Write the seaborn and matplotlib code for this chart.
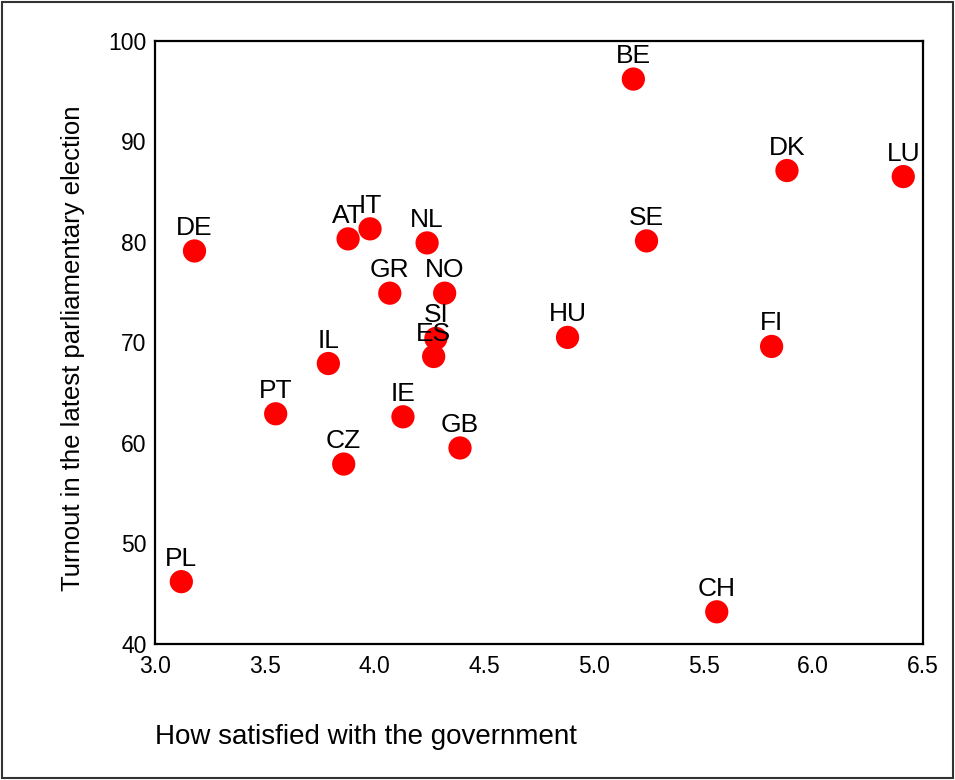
import matplotlib
matplotlib.use("Agg")
import matplotlib.pyplot as plt
from matplotlib.patches import Rectangle
import pandas as pd
import seaborn as sns

# values
countries = ["BE", "DK", "LU", "SE", "DE", "AT", "IT", "NL", "GR", "NO", "SI",
             "ES", "IL", "HU", "FI", "PT", "IE", "CZ", "GB", "PL", "CH"]
satisfaction = [5.18, 5.88, 6.41, 5.24, 3.18, 3.88, 3.98, 4.24, 4.07, 4.32, 4.28,
                4.27, 3.79, 4.88, 5.81, 3.55, 4.13, 3.86, 4.39, 3.12, 5.56]
turnout = [96.2, 87.1, 86.5, 80.1, 79.1, 80.3, 81.3, 79.9, 74.9, 74.9, 70.4,
           68.6, 67.9, 70.5, 69.6, 62.9, 62.6, 57.9, 59.5, 46.2, 43.2]
x_ticks = [3.0, 3.5, 4.0, 4.5, 5.0, 5.5, 6.0, 6.5]
y_ticks = [40, 50, 60, 70, 80, 90, 100]

df = pd.DataFrame({"country": countries, "sat": satisfaction, "turnout": turnout})

sns.set_style("white")
plt.rcParams["font.family"] = ["Liberation Sans", "DejaVu Sans"]

fig = plt.figure(figsize=(9.55, 7.8), dpi=100)
ax = fig.add_axes([0.1623, 0.1744, 0.8042, 0.7732])

sns.scatterplot(data=df, x="sat", y="turnout", ax=ax, color="#ff0000",
                s=280, edgecolor="none", linewidth=0, legend=False)

# country codes sit just above their dots (some overlap, as in the original)
for c, xv, yv in zip(countries, satisfaction, turnout):
    ax.annotate(c, (xv, yv), xytext=(0, 11.5), textcoords="offset points",
                ha="center", va="baseline", fontsize=19, color="black")

ax.set_xlim(3.0, 6.5)
ax.set_ylim(40, 100)
ax.set_xticks(x_ticks)
ax.set_xticklabels([f"{t:.1f}" for t in x_ticks])
ax.set_yticks(y_ticks)
ax.set_xlabel("")
ax.set_ylabel("")
ax.tick_params(direction="out", length=3, width=3.5, color="black",
               labelsize=16.5, labelcolor="black")
ax.tick_params(axis="y", pad=3)
ax.tick_params(axis="x", pad=5)
for sp in ax.spines.values():
    sp.set_visible(True)
    sp.set_color("black")
    sp.set_linewidth(1.6)

fig.text(155 / 955, 1 - 737 / 780, "How satisfied with the government",
         ha="left", va="center", fontsize=20, color="black")
fig.text(73 / 955, 1 - 348 / 780, "Turnout in the latest parliamentary election",
         ha="center", va="center", rotation=90, fontsize=18.5, color="black")

# outer frame round the whole chart
fig.patches.append(Rectangle((0.002, 0.002), 0.996, 0.996, transform=fig.transFigure,
                             fill=False, edgecolor="#333333", linewidth=1.5))

fig.savefig("out.png", dpi=100)
